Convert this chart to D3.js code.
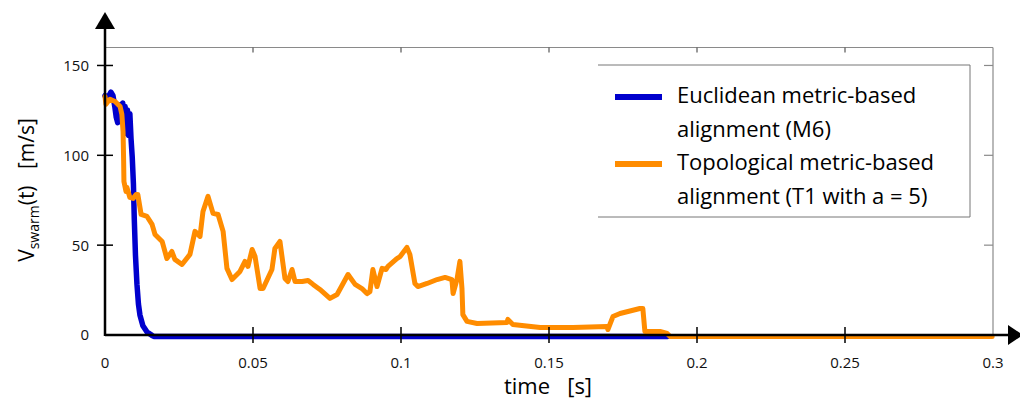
<!DOCTYPE html>
<html><head><meta charset="utf-8">
<script src="https://cdn.jsdelivr.net/npm/d3@7"></script>
<style>html,body{margin:0;padding:0;background:#fff;}svg{display:block;}</style>
</head><body>
<svg id="chart" width="1020" height="401"></svg>
<script>
// ---- data ----
const xTicks = [0, 0.05, 0.1, 0.15, 0.2, 0.25, 0.3];
const xTickLabels = ["0", "0.05", "0.1", "0.15", "0.2", "0.25", "0.3"];
const yTicks = [0, 50, 100, 150];
const yTickLabels = ["0", "50", "100", "150"];
const seriesNames = ["Euclidean metric-based|alignment (M6)", "Topological metric-based|alignment (T1 with a = 5)"];

const blueT = [0, 0.001, 0.002, 0.0027, 0.0033, 0.0038, 0.0043, 0.0048, 0.0052, 0.0056, 0.006, 0.0064, 0.0068, 0.0072, 0.0076, 0.008, 0.0084, 0.0088, 0.0092, 0.0096, 0.0099, 0.0103, 0.0108, 0.0113, 0.0118, 0.0128, 0.0142, 0.016, 0.0165, 0.190];
const blueV = [134, 133, 136, 134, 128, 122, 119, 124, 129, 122, 130, 120, 128, 113, 126, 112, 124, 110, 100, 85, 65, 45, 29, 18, 12, 6, 2.5, 0.5, 0, 0];

const orangeT = [0, 0.0003, 0.001, 0.0017, 0.0034, 0.0051, 0.0057, 0.0061, 0.0063, 0.0064, 0.0071, 0.0074, 0.0084, 0.0095, 0.0105, 0.0111, 0.0122, 0.0142, 0.0159, 0.0169, 0.0193, 0.0209, 0.0226, 0.0236, 0.026, 0.0287, 0.0304, 0.0321, 0.0331, 0.0348, 0.0365, 0.0382, 0.0399, 0.0412, 0.0429, 0.0456, 0.0473, 0.0483, 0.0497, 0.0507, 0.0524, 0.0534, 0.0564, 0.0574, 0.0591, 0.0608, 0.0618, 0.0632, 0.0642, 0.0666, 0.0686, 0.0703, 0.0726, 0.076, 0.0784, 0.0821, 0.0845, 0.0868, 0.0885, 0.0895, 0.0905, 0.0919, 0.0936, 0.0949, 0.0956, 0.0986, 0.0997, 0.102, 0.103, 0.1047, 0.1057, 0.1088, 0.1122, 0.1149, 0.1172, 0.1176, 0.1189, 0.1199, 0.1206, 0.1209, 0.1223, 0.1257, 0.1358, 0.1361, 0.1378, 0.147, 0.1581, 0.1696, 0.1699, 0.1716, 0.174, 0.1807, 0.1817, 0.1824, 0.1875, 0.1899, 0.1909, 0.2997];
const orangeV = [133.6, 129.2, 130.8, 132, 130.8, 128, 123.6, 114, 97.4, 86.3, 80.7, 83, 77.4, 76.8, 79, 79, 67.9, 66.8, 62.4, 56.8, 52.9, 43.4, 47.3, 42.9, 40.1, 45.7, 58.5, 55.7, 69.6, 78, 68.5, 67.9, 58.5, 37.9, 31.7, 36.2, 41.8, 39, 48.4, 44.5, 26.7, 26.7, 37.3, 49, 52.9, 32.3, 30.6, 37.3, 30.6, 30.6, 31.2, 29, 26.2, 21.2, 23.4, 34.5, 29, 26.7, 23.9, 25, 37.3, 27.8, 37.9, 37.3, 39, 43.4, 44.5, 49.6, 45.7, 29.5, 27.8, 29.5, 31.7, 32.9, 31.7, 23.9, 31.7, 41.8, 26.7, 12.2, 8.4, 7.2, 7.8, 9.5, 6.7, 5, 5, 5.6, 3.9, 11.1, 12.8, 15.6, 15.6, 2.8, 2.8, 1.7, 0, 0];

// ---- layout ----
const svg = d3.select("#chart");
const x = d3.scaleLinear().domain([0, 0.3]).range([105, 993]);
const y = d3.scaleLinear().domain([0, 160]).range([335, 47.5]);
const tickFont = "'Open Sans', sans-serif";
const textFont = "'Open Sans', sans-serif";

// frame (grey, top + right) with inward ticks
svg.append("line").attr("x1", x(0)).attr("x2", x(0.3)).attr("y1", y(160)).attr("y2", y(160))
  .attr("stroke", "#8a8a8a").attr("stroke-width", 1.2);
svg.append("line").attr("x1", x(0.3)).attr("x2", x(0.3)).attr("y1", y(160)).attr("y2", y(0))
  .attr("stroke", "#8a8a8a").attr("stroke-width", 1.2);
svg.append("g").selectAll("line").data(xTicks.filter(d => d > 0 && d < 0.3)).join("line")
  .attr("x1", d => x(d)).attr("x2", d => x(d)).attr("y1", y(160)).attr("y2", y(160) + 5)
  .attr("stroke", "#555").attr("stroke-width", 1.2);
svg.append("g").selectAll("line").data(yTicks.filter(d => d > 0)).join("line")
  .attr("x1", x(0.3) - 9).attr("x2", x(0.3)).attr("y1", d => y(d)).attr("y2", d => y(d))
  .attr("stroke", "#8a8a8a").attr("stroke-width", 1.2);

// data lines
const lineGen = d3.line().x(d => x(d[0])).y(d => y(d[1]));
const blue = blueT.map((t, i) => [t, blueV[i]]);
const orange = orangeT.map((t, i) => [t, orangeV[i]]);
const lines = svg.append("g").attr("transform", "translate(0,1.5)");
lines.append("path").datum(blue).attr("d", lineGen).attr("fill", "none")
  .attr("stroke", "#0000cd").attr("stroke-width", 5.5).attr("stroke-linejoin", "round").attr("stroke-linecap", "round");
lines.append("path").datum(orange).attr("d", lineGen).attr("fill", "none")
  .attr("stroke", "#ff8c00").attr("stroke-width", 5).attr("stroke-linejoin", "round").attr("stroke-linecap", "round");

// legend
const lg = svg.append("g");
const lx0 = 598, lx1 = 970, ly0 = 65, ly1 = 217;
lg.append("rect").attr("x", lx0).attr("y", ly0).attr("width", lx1 - lx0).attr("height", ly1 - ly0).attr("fill", "#fff");
lg.append("path").attr("d", `M${lx0},${ly0}H${lx1}V${ly1}H${lx0}`).attr("fill", "none").attr("stroke", "#777").attr("stroke-width", 1);
const legColors = ["#0000cd", "#ff8c00"];
seriesNames.forEach((name, i) => {
  const base = 103 + i * 67;
  lg.append("rect").attr("x", 615).attr("y", base - 9).attr("width", 47).attr("height", 6).attr("fill", legColors[i]);
  name.split("|").forEach((part, j) => {
    lg.append("text").attr("x", 677).attr("y", base + j * 34).text(part)
      .attr("font-family", textFont).attr("font-size", 22).attr("fill", "#000");
  });
});

// axes (black, with arrows)
const ax = svg.append("g");
ax.append("line").attr("x1", x(0)).attr("x2", 1010).attr("y1", y(0)).attr("y2", y(0)).attr("stroke", "#000").attr("stroke-width", 2.5);
ax.append("path").attr("d", `M1008,${y(0) - 10}L1023,${y(0)}L1008,${y(0) + 10}Z`).attr("fill", "#000");
ax.append("line").attr("x1", x(0)).attr("x2", x(0)).attr("y1", y(0) + 1).attr("y2", 28).attr("stroke", "#000").attr("stroke-width", 2.5);
ax.append("path").attr("d", `M${x(0) - 10},29L${x(0)},12L${x(0) + 10},29Z`).attr("fill", "#000");
ax.selectAll(".xt").data(xTicks.filter(d => d > 0 && d < 0.3)).join("line")
  .attr("x1", d => x(d)).attr("x2", d => x(d)).attr("y1", y(0) - 8).attr("y2", y(0) + 8)
  .attr("stroke", "#000").attr("stroke-width", 1.5);
ax.selectAll(".yt").data(yTicks.filter(d => d > 0)).join("line")
  .attr("x1", x(0) - 8).attr("x2", x(0) + 8).attr("y1", d => y(d)).attr("y2", d => y(d))
  .attr("stroke", "#000").attr("stroke-width", 1.5);

// tick labels
ax.selectAll(".xl").data(xTicks).join("text")
  .attr("x", d => x(d)).attr("y", 368).attr("text-anchor", "middle")
  .attr("font-family", tickFont).attr("font-size", 15).attr("fill", "#111")
  .text((d, i) => xTickLabels[i]);
ax.selectAll(".yl").data(yTicks).join("text")
  .attr("x", 89).attr("y", d => y(d)).attr("dy", "0.36em").attr("text-anchor", "end")
  .attr("font-family", tickFont).attr("font-size", 15).attr("fill", "#111")
  .text((d, i) => yTickLabels[i]);

// axis titles
svg.append("text").attr("x", 548).attr("y", 394).attr("text-anchor", "middle")
  .attr("font-family", textFont).attr("font-size", 22).attr("fill", "#000")
  .attr("xml:space", "preserve").style("white-space", "pre").text("time   [s]");
const yt = svg.append("text").attr("transform", "translate(34,190) rotate(-90)").attr("text-anchor", "middle")
  .attr("font-family", textFont).attr("font-size", 21).attr("fill", "#000").style("white-space", "pre");
yt.append("tspan").text("V");
yt.append("tspan").attr("font-size", 14).attr("dy", 5).text("swarm");
yt.append("tspan").attr("dy", -5).text("(t)   [m/s]");
</script>
</body></html>
